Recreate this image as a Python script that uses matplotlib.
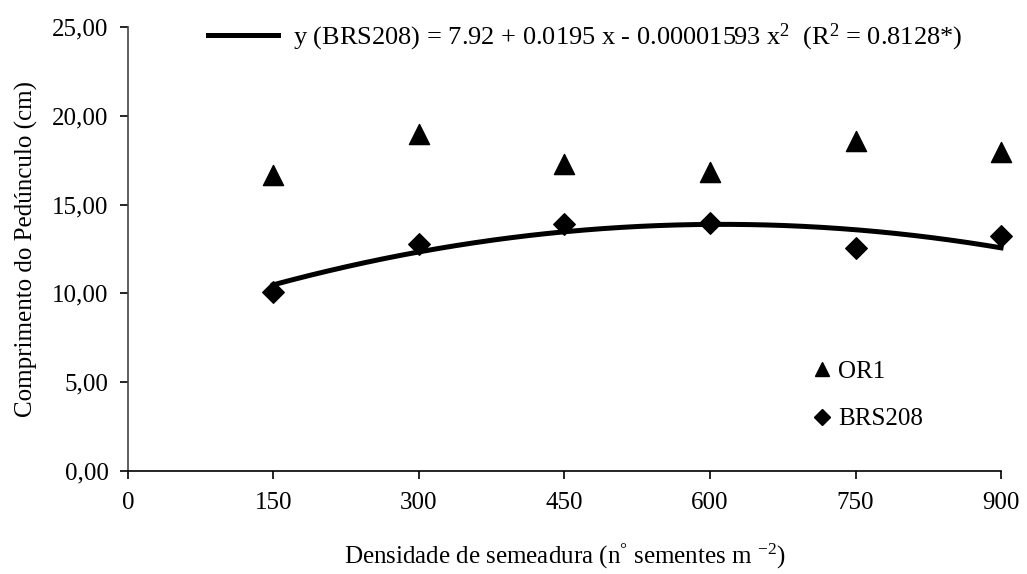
import numpy as np
import matplotlib
matplotlib.use('Agg')
import matplotlib.pyplot as plt
from matplotlib.lines import Line2D
from matplotlib.ticker import FuncFormatter

plt.rcParams['font.family'] = ['Liberation Serif', 'DejaVu Serif']
plt.rcParams['mathtext.fontset'] = 'custom'
plt.rcParams['mathtext.rm'] = 'Liberation Serif'
plt.rcParams['mathtext.it'] = 'Liberation Serif:italic'

# densidade de semeadura
densidade = [150, 300, 450, 600, 750, 900]
or1 = [16.67, 18.97, 17.29, 16.84, 18.58, 17.96]
brs208 = [10.08, 12.78, 13.91, 13.96, 12.56, 13.23]

# coeficientes da regressao (BRS208)
b0, b1, b2 = 7.92, 0.0195, -0.00001593

xticks = [0, 150, 300, 450, 600, 750, 900]
yticks = [0, 5, 10, 15, 20, 25]

fs = 18

fig = plt.figure(figsize=(10.27, 5.74), dpi=100)
ax = fig.add_axes([0.1246, 0.1794, 0.8501, 0.7736])

ax.scatter(densidade, or1, marker='^', s=210, color='black', zorder=3, clip_on=False)
ax.scatter(densidade, brs208, marker='D', s=120, color='black', zorder=3, clip_on=False)

xs = np.linspace(150, 900, 200)
ax.plot(xs, b0 + b1 * xs + b2 * xs ** 2, color='black', lw=3.6, zorder=4, clip_on=False)

ax.set_xlim(0, 900)
ax.set_ylim(0, 25)
ax.set_xticks(xticks)
ax.set_yticks(yticks)
ax.yaxis.set_major_formatter(FuncFormatter(lambda v, p: f"{v:.2f}".replace('.', ',')))
ax.tick_params(labelsize=fs, length=6, width=1.2, direction='out', colors='black')
ax.tick_params(axis='x', pad=9)
ax.tick_params(axis='y', pad=8)

for s in ['top', 'right']:
    ax.spines[s].set_visible(False)
for s in ['left', 'bottom']:
    ax.spines[s].set_linewidth(1.2)
ax.spines['left'].set_color('#444444')

ax.set_xlabel(r'Densidade de semeadura (n$^{°}$ sementes m $^{-2}$)', fontsize=fs, labelpad=20)
ax.set_ylabel('Comprimento do Pedúnculo (cm)', fontsize=fs, labelpad=10)

# legenda da equacao
h_line = [Line2D([0], [0], color='black', lw=3.6)]
leg1 = ax.legend(h_line, [r'y (BRS208) = 7.92 + 0.0195 x - 0.00001593 x$^{2}$  (R$^{2}$ = 0.8128*)'],
                 loc='upper left', bbox_to_anchor=(0.064, 1.065), frameon=False,
                 fontsize=19, handlelength=2.65, handletextpad=0.57)
ax.add_artist(leg1)

# legenda dos genotipos
h_pts = [Line2D([0], [0], marker='^', color='black', ls='none', markersize=10),
         Line2D([0], [0], marker='D', color='black', ls='none', markersize=8)]
ax.legend(h_pts, ['OR1', 'BRS208'], loc='upper left', bbox_to_anchor=(0.758, 0.30),
          frameon=False, fontsize=fs, handlelength=0.8, handletextpad=0.25,
          labelspacing=1.0)

fig.savefig('out.png', dpi=100)
